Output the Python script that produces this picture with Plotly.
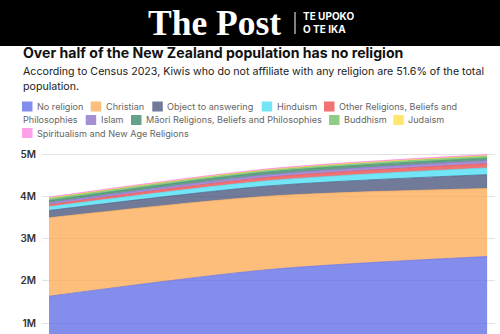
import plotly.graph_objects as go

# ---------------- data ----------------
years = [2013, 2018, 2023]
series_names = [
    "No religion", "Christian", "Object to answering", "Hinduism",
    "Other Religions, Beliefs and Philosophies", "Islam",
    "Māori Religions, Beliefs and Philosophies", "Buddhism", "Judaism",
    "Spiritualism and New Age Religions",
]
no_religion = [1635000, 2265000, 2576000]
christian = [1859000, 1739000, 1610000]
object_to_answering = [173000, 243000, 330000]
hinduism = [90000, 124000, 160000]
other_religions = [45000, 80000, 100000]
islam = [46000, 61000, 70000]
maori_religions = [53000, 65000, 60000]
buddhism = [58000, 53000, 60000]
judaism = [7000, 5000, 5000]
spiritualism = [18000, 19000, 20000]
series_values = [no_religion, christian, object_to_answering, hinduism,
                 other_religions, islam, maori_religions, buddhism,
                 judaism, spiritualism]
tick_values = [1e6, 2e6, 3e6, 4e6, 5e6]
tick_labels = ["1M", "2M", "3M", "4M", "5M"]

title = "Over half of the New Zealand population has no religion"
subtitle_lines = ["According to Census 2023, Kiwis who do not affiliate with any religion are 51.6% of the total",
                  "population."]

# ---------------- styles ----------------
colors = ["#6470e6", "#fdae5a", "#4d5a80", "#4fe0f5", "#ee4f4f",
          "#8f74cc", "#3f8a6c", "#73bf68", "#ffe04a", "#ff8ae2"]
ALPHA = 0.8


def rgba(h, a):
    h = h.lstrip("#")
    return "rgba(%d,%d,%d,%s)" % (int(h[0:2], 16), int(h[2:4], 16), int(h[4:6], 16), a)


W, H = 500, 334
L, R, T, B = 42, 495, 150, 334


def px(x):
    return (x - L) / (R - L)


def py(y):
    return (B - y) / (B - T)


fig = go.Figure()
for name, vals, c in zip(series_names, series_values, colors):
    fig.add_trace(go.Scatter(
        x=years, y=vals, name=name, stackgroup="one", mode="lines",
        line=dict(color=rgba(c, 0.9), width=0.8, shape="spline", smoothing=0.8),
        fillcolor=rgba(c, ALPHA), showlegend=False,
    ))

FONT = "Inter"
ann = []
shapes = []
# header bar
shapes.append(dict(type="rect", xref="paper", yref="paper", x0=px(0), x1=px(W),
                   y0=py(46), y1=py(0), fillcolor="#000000", line=dict(width=0), layer="above"))
shapes.append(dict(type="line", xref="paper", yref="paper", x0=px(295), x1=px(295),
                   y0=py(12), y1=py(34), line=dict(color="#ffffff", width=1), layer="above"))
ann.append(dict(text="<b>The Post</b>", x=px(146), y=py(23), xref="paper", yref="paper",
                xanchor="left", yanchor="middle", showarrow=False,
                font=dict(family="Liberation Serif", size=35.5, color="#ffffff")))
ann.append(dict(text="<b>TE UPOKO<br>O TE IKA</b>", x=px(301), y=py(23), xref="paper", yref="paper",
                xanchor="left", yanchor="middle", showarrow=False, align="left",
                font=dict(family=FONT, size=10, color="#ffffff", weight=800)))
# title & subtitle
ann.append(dict(text="<b>" + title + "</b>", x=px(21), y=py(52), xref="paper", yref="paper",
                xanchor="left", yanchor="middle", showarrow=False,
                font=dict(family=FONT, size=14.1, color="#111111")))
for i, line in enumerate(subtitle_lines):
    ann.append(dict(text=line, x=px(21), y=py(71.5 + 15 * i), xref="paper", yref="paper",
                    xanchor="left", yanchor="middle", showarrow=False,
                    font=dict(family=FONT, size=10.65, color="#222222")))

# legend (manual, wrapping like the original)
leg_pos = [(22, 0), (90.7, 0), (152.3, 0), (261.7, 0), (324, 0),
           (85.7, 1), (131, 1), (329, 1), (393.3, 1), (22, 2)]
row_y = [106.5, 120, 133]
LEG_FONT = dict(family=FONT, size=9.1, color="#666666")
for (lx, row), name, c in zip(leg_pos, series_names, colors):
    yc = row_y[row]
    shapes.append(dict(type="rect", xref="paper", yref="paper", x0=px(lx), x1=px(lx + 10.5),
                       y0=py(yc + 5), y1=py(yc - 5), fillcolor=rgba(c, ALPHA), line=dict(width=0)))
    text = name
    if name.startswith("Other"):
        text = "Other Religions, Beliefs and"
        ann.append(dict(text="Philosophies", x=px(21), y=py(row_y[1]), xref="paper", yref="paper",
                        xanchor="left", yanchor="middle", showarrow=False, font=LEG_FONT))
    ann.append(dict(text=text, x=px(lx + 13), y=py(yc), xref="paper", yref="paper",
                    xanchor="left", yanchor="middle", showarrow=False, font=LEG_FONT))

fig.update_layout(
    width=W, height=H, margin=dict(l=L, r=W - R, t=T, b=H - B, pad=0),
    paper_bgcolor="#ffffff", plot_bgcolor="#ffffff",
    showlegend=False, annotations=ann, shapes=shapes,
    xaxis=dict(range=[2012.84, 2023.18], visible=False, fixedrange=True),
    yaxis=dict(range=[0.74e6, 5.1e6], tickvals=tick_values, ticktext=tick_labels,
               showgrid=True, gridcolor="#e2e2e2", gridwidth=1, zeroline=False,
               ticks="", ticklabelstandoff=5,
               tickfont=dict(family=FONT, size=10, color="#333333", weight=600),
               fixedrange=True),
)
fig.write_html("out.html")
